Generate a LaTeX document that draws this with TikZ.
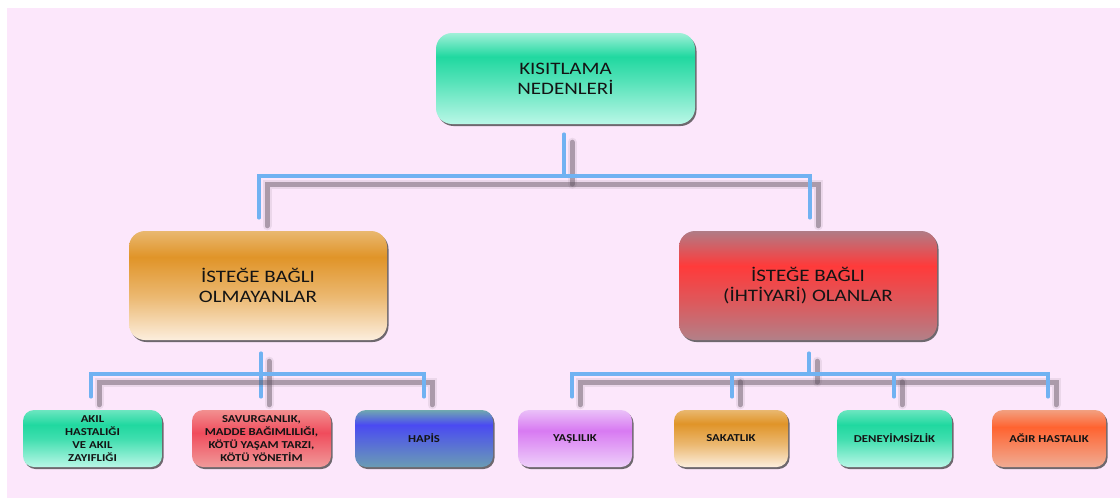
\documentclass[tikz,border=0pt]{standalone}
\usepackage{fontspec}
\setmainfont[FakeStretch=1.2]{Carlito}
\usetikzlibrary{calc,shadows}

\definecolor{bgpink}{HTML}{FCE7FB}
\definecolor{connblue}{HTML}{70B2F2}
\definecolor{shgray}{HTML}{5E505E}
\definecolor{txt}{HTML}{141414}

% mint
\definecolor{mintT}{HTML}{A0F0D8}\definecolor{mintM}{HTML}{20D8A0}\definecolor{mintB}{HTML}{BAF7E7}
\pgfdeclareverticalshading{shMint}{100bp}{color(0bp)=(mintB); color(25bp)=(mintB); color(50bp)=(mintM!70!mintB); color(62bp)=(mintM); color(75bp)=(mintT); color(100bp)=(mintT)}
\definecolor{mint2T}{HTML}{6CE6C0}
\pgfdeclareverticalshading{shMintS}{100bp}{color(0bp)=(mintB); color(25bp)=(mintB); color(50bp)=(mintM!80!mintB); color(62bp)=(mintM); color(75bp)=(mint2T); color(100bp)=(mint2T)}
% orange
\definecolor{orT}{HTML}{E9B870}\definecolor{orM}{HTML}{E09428}\definecolor{orB}{HTML}{FCEEDD}
\pgfdeclareverticalshading{shOrange}{100bp}{color(0bp)=(orB); color(25bp)=(orB); color(45bp)=(orM!60!orB); color(63bp)=(orM); color(75bp)=(orT); color(100bp)=(orT)}
% red
\definecolor{rdT}{HTML}{B07C86}\definecolor{rdM}{HTML}{FF3A3A}\definecolor{rdB}{HTML}{B28088}
\pgfdeclareverticalshading{shRed}{100bp}{color(0bp)=(rdB); color(25bp)=(rdB); color(42bp)=(rdM!55!rdB); color(59bp)=(rdM); color(75bp)=(rdT); color(100bp)=(rdT)}
% pink-red
\definecolor{prT}{HTML}{F29090}\definecolor{prM}{HTML}{F04C5C}\definecolor{prB}{HTML}{F09A9A}
\pgfdeclareverticalshading{shPinkRed}{100bp}{color(0bp)=(prB); color(25bp)=(prB); color(55bp)=(prM); color(75bp)=(prT); color(100bp)=(prT)}
% blue
\definecolor{blT}{HTML}{70A8B0}\definecolor{blM}{HTML}{4A4AF2}\definecolor{blB}{HTML}{6A9CB4}
\pgfdeclareverticalshading{shBlue}{100bp}{color(0bp)=(blB); color(25bp)=(blB); color(62bp)=(blM); color(75bp)=(blT); color(100bp)=(blT)}
% violet
\definecolor{viT}{HTML}{EAC0F8}\definecolor{viM}{HTML}{D87AF2}\definecolor{viB}{HTML}{EED0FA}
\pgfdeclareverticalshading{shViolet}{100bp}{color(0bp)=(viB); color(25bp)=(viB); color(57bp)=(viM); color(75bp)=(viT); color(100bp)=(viT)}
% coral
\definecolor{coT}{HTML}{F2A080}\definecolor{coM}{HTML}{FF6330}\definecolor{coB}{HTML}{F0AC94}
\pgfdeclareverticalshading{shCoral}{100bp}{color(0bp)=(coB); color(25bp)=(coB); color(60bp)=(coM); color(75bp)=(coT); color(100bp)=(coT)}

\tikzset{
  box/.style={rounded corners=16pt, align=center, inner sep=0pt, text=txt,
    drop shadow={shadow xshift=1.5pt, shadow yshift=-2pt, opacity=0.7, fill=black!80}},
  bigbox/.style={box, minimum width=258pt, font=\fontsize{17.5}{20}\selectfont},
  smallbox/.style={box, rounded corners=11pt, minimum height=57pt,
    font=\fontsize{10.6}{13.2}\selectfont\bfseries},
  conn/.style={draw=connblue, line width=3.5pt, line cap=round,
    preaction={draw=shgray, line width=9pt, opacity=0.10, line cap=round,
      transform canvas={xshift=8pt, yshift=-8pt}},
    preaction={draw=shgray, line width=5pt, opacity=0.45, line cap=round,
      transform canvas={xshift=8pt, yshift=-8pt}}},
}

\begin{document}
\begin{tikzpicture}[x=1pt,y=-1pt]
\useasboundingbox (0,0) rectangle (1120,498);
\fill[white] (0,0) rectangle (1120,498);
\fill[bgpink] (7,8) rectangle (1120,498);

% nodes
\node[bigbox, shading=shMint, minimum width=259pt, minimum height=91pt] (top) at (565.5,78.5) {KISITLAMA\\NEDENLERİ};
\node[bigbox, shading=shOrange, minimum height=109pt] (m1) at (258,285.5) {İSTEĞE BAĞLI\\OLMAYANLAR};
\node[bigbox, shading=shRed, minimum height=109pt] (m2) at (808,285.5) {İSTEĞE BAĞLI\\(İHTİYARİ) OLANLAR};

\node[smallbox, shading=shMintS, minimum width=139pt] (b1) at (92.5,438.5) {AKIL\\HASTALIĞI\\VE AKIL\\ZAYIFLIĞI};
\node[smallbox, shading=shPinkRed, minimum width=139pt] (b2) at (261.5,438.5) {SAVURGANLIK,\\MADDE BAĞIMLILIĞI,\\KÖTÜ YAŞAM TARZI,\\KÖTÜ YÖNETİM};
\node[smallbox, shading=shBlue, minimum width=138pt] (b3) at (424,438.5) {HAPİS};
\node[smallbox, shading=shViolet, minimum width=114pt] (b4) at (575,438.5) {YAŞLILIK};
\node[smallbox, shading=shOrange, minimum width=114pt] (b5) at (731,438.5) {SAKATLIK};
\node[smallbox, shading=shMintS, minimum width=115pt] (b6) at (894.5,438.5) {DENEYİMSİZLİK};
\node[smallbox, shading=shCoral, minimum width=114pt] (b7) at (1049,438.5) {AĞIR HASTALIK};

% top level connectors
\coordinate (t1) at ($(top.south)+(-1.5,10)$);
\coordinate (t2) at ($(top.south)+(-1.5,52)$);
\coordinate (tl) at ($(m1.north)+(1,-13)$);
\coordinate (tr) at ($(m2.north)+(2,-13)$);
\draw[conn] (t1) -- (t2);
\draw[conn] (tl) |- (t2) -| (tr);

% left group
\coordinate (l1) at ($(m1.south)+(3,13)$);
\coordinate (lbar) at ($(m1.south)+(3,34)$);
\coordinate (l2) at ($(b2.north)+(-0.5,-13)$);
\draw[conn] (l1) -- (l2);
\draw[conn] ($(b1.north)+(-1.5,-13)$) |- (lbar) -| ($(b3.north)+(0,-13)$);

% right group
\coordinate (r1) at ($(m2.south)+(1,13)$);
\coordinate (rbar) at ($(m2.south)+(1,34)$);
\draw[conn] (r1) -- (rbar);
\draw[conn] ($(b4.north)+(-3,-13)$) |- (rbar) -| ($(b7.north)+(-1,-13)$);
\draw[conn] ($(b5.north)+(1,-13)$) -- ($(b5.north)+(1,-36)$);
\draw[conn] ($(b6.north)+(-0.5,-13)$) -- ($(b6.north)+(-0.5,-36)$);
\end{tikzpicture}
\end{document}
